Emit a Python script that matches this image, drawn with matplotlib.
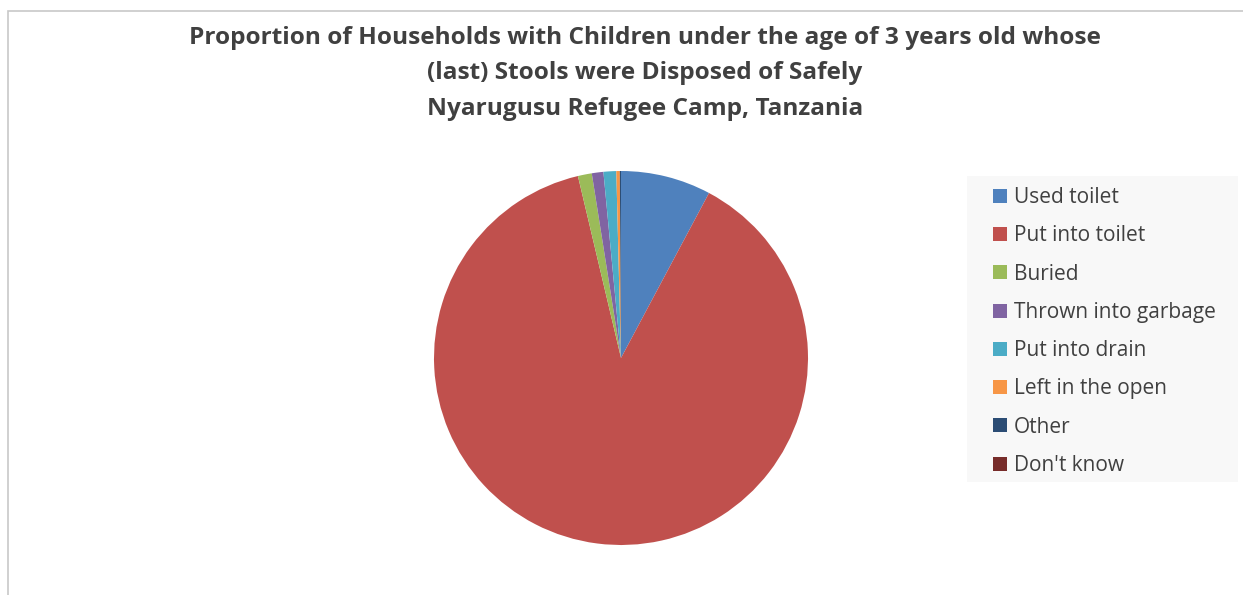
import matplotlib.pyplot as plt
from matplotlib.patches import Rectangle

# data (percent of households)
labels = ["Used toilet", "Put into toilet", "Buried", "Thrown into garbage",
          "Put into drain", "Left in the open", "Other", "Don't know"]
values = [7.8, 88.5, 1.2, 1.0, 1.1, 0.3, 0.1, 0.0]
colors = ["#4f81bd", "#c0504d", "#9bbb59", "#8064a2",
          "#4bacc6", "#f79646", "#2c4d75", "#772c2a"]

title = ("Proportion of Households with Children under the age of 3 years old whose\n"
         "(last) Stools were Disposed of Safely\n"
         "Nyarugusu Refugee Camp, Tanzania")

plt.rcParams['font.family'] = ['Open Sans', 'DejaVu Sans']

W, H = 1243, 595
fig = plt.figure(figsize=(W / 100, H / 100), dpi=100)

# outer chart frame
fig.patches.append(Rectangle((8 / W, -0.05), 1.2, (H - 11) / H + 0.05,
                             transform=fig.transFigure, fill=False,
                             edgecolor="#c8c8c8", linewidth=1.2))

fig.text(645 / W, 1 - 26 / H, title, ha="center", va="top",
         fontsize=17.6, fontweight="bold", color="#404040", linespacing=1.63)

cx, cy, r = 621, 358, 187
ax = fig.add_axes([(cx - r) / W, (H - cy - r) / H, 2 * r / W, 2 * r / H])
wedges, _ = ax.pie(values, colors=colors, startangle=90, counterclock=False,
                   radius=1.0, wedgeprops=dict(linewidth=0))
ax.set_xlim(-1, 1)
ax.set_ylim(-1, 1)
ax.set_aspect("equal")

# legend background box
fig.patches.append(Rectangle((967 / W, 1 - 482 / H), 271 / W, 306 / H,
                             transform=fig.transFigure, facecolor="#f8f8f8",
                             edgecolor="none", zorder=0))

leg = fig.legend(wedges, labels, loc="upper left",
                 bbox_to_anchor=(993 / W, 1 - 187 / H),
                 fontsize=15, frameon=False,
                 handlelength=0.65, handleheight=0.65, handletextpad=0.35,
                 labelspacing=0.83, borderpad=0, borderaxespad=0)
for t in leg.get_texts():
    t.set_color("#404040")

fig.savefig("out.png", dpi=100)
